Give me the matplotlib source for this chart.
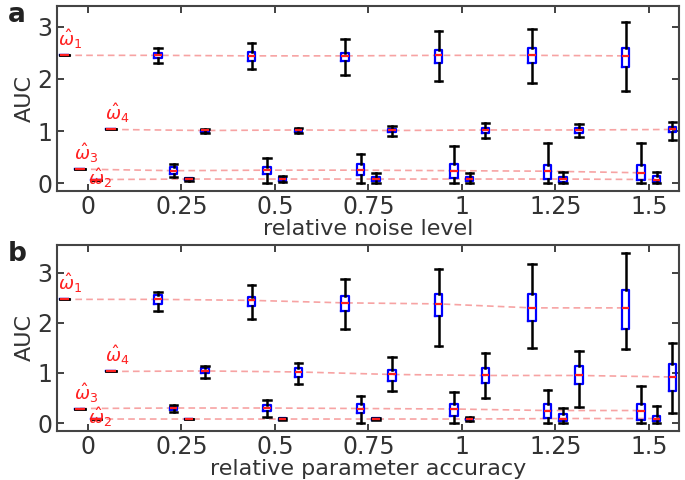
import matplotlib
matplotlib.use("Agg")
import numpy as np
import matplotlib.pyplot as plt

levels = [0, 0.25, 0.5, 0.75, 1.0, 1.25, 1.5]
xticklabels = ["0", "0.25", "0.5", "0.75", "1", "1.25", "1.5"]
names = ["1", "3", "2", "4"]          # left-to-right order inside each group

# ---- panel a: relative noise level ----
a_w1_med = [2.45, 2.45, 2.44, 2.44, 2.45, 2.45, 2.44]
a_w1_q1 = [2.45, 2.40, 2.35, 2.35, 2.31, 2.31, 2.23]
a_w1_q3 = [2.45, 2.50, 2.52, 2.50, 2.56, 2.60, 2.60]
a_w1_lo = [2.45, 2.31, 2.19, 2.08, 1.96, 1.92, 1.77]
a_w1_hi = [2.45, 2.60, 2.69, 2.77, 2.92, 2.96, 3.08]

a_w2_med = [0.07, 0.08, 0.08, 0.08, 0.08, 0.08, 0.07]
a_w2_q1 = [0.07, 0.06, 0.05, 0.04, 0.04, 0.03, 0.03]
a_w2_q3 = [0.07, 0.10, 0.11, 0.12, 0.12, 0.12, 0.14]
a_w2_lo = [0.07, 0.05, 0.03, 0.00, 0.00, 0.00, 0.00]
a_w2_hi = [0.07, 0.10, 0.13, 0.19, 0.20, 0.21, 0.22]

a_w3_med = [0.27, 0.24, 0.25, 0.25, 0.24, 0.23, 0.20]
a_w3_q1 = [0.27, 0.17, 0.17, 0.15, 0.10, 0.09, 0.07]
a_w3_q3 = [0.27, 0.32, 0.31, 0.36, 0.36, 0.35, 0.34]
a_w3_lo = [0.27, 0.12, 0.00, 0.00, 0.00, 0.00, 0.00]
a_w3_hi = [0.27, 0.37, 0.48, 0.56, 0.71, 0.78, 0.78]

a_w4_med = [1.03, 1.01, 1.02, 1.01, 1.02, 1.02, 1.03]
a_w4_q1 = [1.03, 0.99, 0.99, 0.98, 0.97, 0.97, 0.98]
a_w4_q3 = [1.03, 1.02, 1.04, 1.04, 1.05, 1.05, 1.07]
a_w4_lo = [1.03, 0.97, 0.97, 0.90, 0.87, 0.89, 0.83]
a_w4_hi = [1.03, 1.03, 1.05, 1.10, 1.15, 1.13, 1.18]

# ---- panel b: relative parameter accuracy ----
b_w1_med = [2.47, 2.47, 2.45, 2.40, 2.38, 2.30, 2.30]
b_w1_q1 = [2.47, 2.37, 2.33, 2.24, 2.13, 2.04, 1.88]
b_w1_q3 = [2.47, 2.55, 2.52, 2.54, 2.58, 2.58, 2.66]
b_w1_lo = [2.47, 2.24, 2.08, 1.88, 1.54, 1.50, 1.48]
b_w1_hi = [2.47, 2.62, 2.76, 2.88, 3.08, 3.18, 3.40]

b_w2_med = [0.08, 0.08, 0.08, 0.08, 0.08, 0.09, 0.09]
b_w2_q1 = [0.08, 0.08, 0.07, 0.07, 0.06, 0.04, 0.04]
b_w2_q3 = [0.08, 0.08, 0.10, 0.10, 0.10, 0.18, 0.15]
b_w2_lo = [0.08, 0.08, 0.06, 0.06, 0.05, 0.00, 0.00]
b_w2_hi = [0.08, 0.08, 0.11, 0.11, 0.12, 0.30, 0.34]

b_w3_med = [0.29, 0.30, 0.30, 0.29, 0.28, 0.25, 0.25]
b_w3_q1 = [0.29, 0.27, 0.24, 0.20, 0.14, 0.10, 0.07]
b_w3_q3 = [0.29, 0.33, 0.36, 0.38, 0.38, 0.38, 0.38]
b_w3_lo = [0.29, 0.22, 0.12, 0.00, 0.00, 0.00, 0.00]
b_w3_hi = [0.29, 0.36, 0.46, 0.54, 0.62, 0.66, 0.74]

b_w4_med = [1.03, 1.04, 1.02, 0.97, 0.95, 0.95, 0.92]
b_w4_q1 = [1.03, 1.00, 0.92, 0.84, 0.80, 0.78, 0.64]
b_w4_q3 = [1.03, 1.10, 1.10, 1.06, 1.10, 1.14, 1.18]
b_w4_lo = [1.03, 0.90, 0.78, 0.64, 0.50, 0.33, 0.20]
b_w4_hi = [1.03, 1.14, 1.20, 1.32, 1.40, 1.44, 1.60]

panel_a = {
    "1": (a_w1_lo, a_w1_q1, a_w1_med, a_w1_q3, a_w1_hi),
    "2": (a_w2_lo, a_w2_q1, a_w2_med, a_w2_q3, a_w2_hi),
    "3": (a_w3_lo, a_w3_q1, a_w3_med, a_w3_q3, a_w3_hi),
    "4": (a_w4_lo, a_w4_q1, a_w4_med, a_w4_q3, a_w4_hi),
}
panel_b = {
    "1": (b_w1_lo, b_w1_q1, b_w1_med, b_w1_q3, b_w1_hi),
    "2": (b_w2_lo, b_w2_q1, b_w2_med, b_w2_q3, b_w2_hi),
    "3": (b_w3_lo, b_w3_q1, b_w3_med, b_w3_q3, b_w3_hi),
    "4": (b_w4_lo, b_w4_q1, b_w4_med, b_w4_q3, b_w4_hi),
}

d = 1 / 24
offsets = {"1": -1.5 * d, "3": -0.5 * d, "2": 0.5 * d, "4": 1.5 * d}
# label anchor (dx from marker, dy from true value)
label_pos = {"1": (-0.017, 0.08), "3": (-0.017, 0.07), "2": (-0.02, -0.2), "4": (-0.017, 0.08)}

red = "#ff2020"
line_red = "#f7a3a3"
text_col = "#333333"


def draw_panel(ax, data, ylim, xlabel):
    for name in names:
        lo, q1, med, q3, hi = data[name]
        xs = np.array(levels) + offsets[name]
        ax.plot(xs, med, color=line_red, lw=1.2, ls=(0, (4, 2.5)), zorder=1)
        stats = [dict(whislo=lo[i], q1=q1[i], med=med[i], q3=q3[i], whishi=hi[i])
                 for i in range(len(levels))]
        widths = [0.026] + [0.02] * (len(levels) - 1)
        ax.bxp(stats, positions=xs, widths=widths, capwidths=widths, showfliers=False,
               manage_ticks=False,
               boxprops=dict(color="blue", lw=1.6),
               medianprops=dict(color=red, lw=1.6),
               whiskerprops=dict(color="black", lw=1.8, ls="-"),
               capprops=dict(color="black", lw=1.8))
        dx, dy = label_pos[name]
        ax.text(xs[0] + dx, med[0] + dy, r"$\hat{\omega}_%s$" % name, color=red,
                fontsize=13, ha="left", va="bottom")
    ax.set_xlim(-0.083, 1.58)
    ax.set_ylim(*ylim)
    ax.set_xticks(levels)
    ax.set_xticklabels(xticklabels)
    ax.set_yticks([0, 1, 2, 3])
    ax.tick_params(direction="in", top=True, right=True, length=5, width=1.3,
                   labelsize=17, colors=text_col, pad=3)
    for s in ax.spines.values():
        s.set_linewidth(1.5)
        s.set_color("#444444")
    ax.set_ylabel("AUC", fontsize=16, color=text_col, labelpad=2)
    ax.set_xlabel(xlabel, fontsize=16, color=text_col, labelpad=0)


fig = plt.figure(figsize=(6.85, 4.8), dpi=100)
ax_a = fig.add_axes([0.083, 0.602, 0.908, 0.386])
ax_b = fig.add_axes([0.083, 0.102, 0.908, 0.388])

draw_panel(ax_a, panel_a, (-0.15, 3.4), "relative noise level")
draw_panel(ax_b, panel_b, (-0.16, 3.56), "relative parameter accuracy")

fig.text(0.012, 0.995, "a", fontsize=19, fontweight="bold", color="#222222", ha="left", va="top")
fig.text(0.012, 0.497, "b", fontsize=19, fontweight="bold", color="#222222", ha="left", va="top")

fig.savefig("out.png", dpi=100)
